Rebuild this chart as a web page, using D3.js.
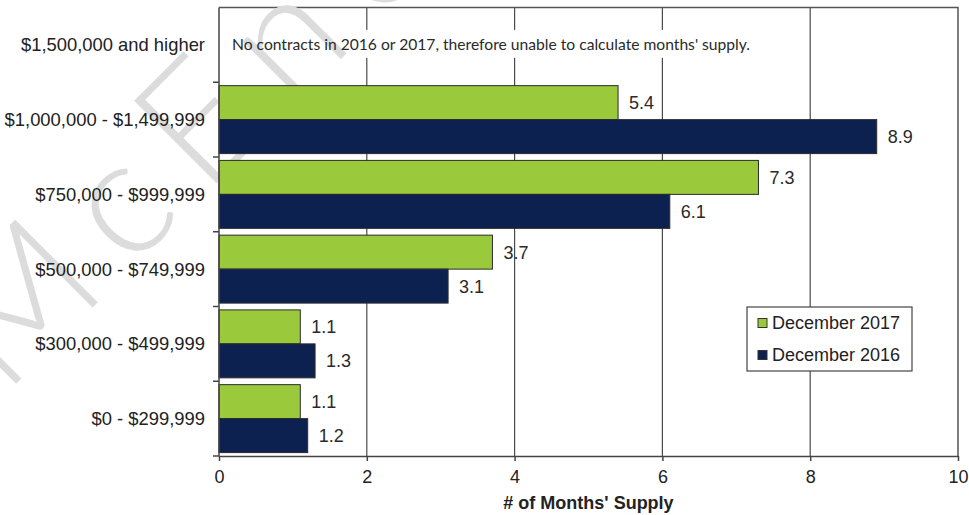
<!DOCTYPE html>
<html>
<head>
<meta charset="utf-8">
<script src="https://cdn.jsdelivr.net/npm/d3@7"></script>
<style>
  html, body { margin: 0; padding: 0; background: #fff; }
  svg { display: block; }
  text { font-family: "Liberation Sans", Arial, sans-serif; fill: #222; }
</style>
</head>
<body>
<svg id="chart" width="969" height="515"></svg>
<script>
// Price ranges, top to bottom
const categories = [
  "$1,500,000 and higher",
  "$1,000,000 - $1,499,999",
  "$750,000 - $999,999",
  "$500,000 - $749,999",
  "$300,000 - $499,999",
  "$0 - $299,999"
];
const seriesNames = ["December 2017", "December 2016"];
// Months' supply per price range (null = no contracts)
const dec2017 = [null, 5.4, 7.3, 3.7, 1.1, 1.1];
const dec2016 = [null, 8.9, 6.1, 3.1, 1.3, 1.2];
const xTicks = [0, 2, 4, 6, 8, 10];
const xTitle = "# of Months' Supply";
const noteText = "No contracts in 2016 or 2017,  therefore unable to calculate months' supply.";
const watermark = "McEnearney";

const colors = { "December 2017": "#9BC93C", "December 2016": "#0C2150" };

const plot = { left: 219, right: 958, top: 7.5, bottom: 456 };

const svg = d3.select("#chart");

const x = d3.scaleLinear().domain([0, 10]).range([plot.left, plot.right]);
const y = d3.scaleBand().domain(categories).range([plot.top, plot.bottom]).padding(0);
const ySub = d3.scaleBand().domain(seriesNames).range([0, y.bandwidth()]).paddingInner(0).paddingOuter(0.1);

const rows = categories.map((c, i) => ({
  category: c,
  values: [
    { series: seriesNames[0], value: dec2017[i] },
    { series: seriesNames[1], value: dec2016[i] }
  ]
}));

// Vertical gridlines
svg.append("g")
  .selectAll("line")
  .data(xTicks.filter(t => t > 0 && t < 10))
  .join("line")
  .attr("x1", d => x(d)).attr("x2", d => x(d))
  .attr("y1", plot.top).attr("y2", plot.bottom)
  .attr("stroke", "#4a4a4a").attr("stroke-width", 1.2);

// Frame (top and right)
svg.append("path")
  .attr("d", `M${plot.left},${plot.top}H${plot.right}V${plot.bottom}`)
  .attr("fill", "none").attr("stroke", "#555").attr("stroke-width", 1.5);

// White strip behind the note for the empty top range
const noteY = y(categories[0]) + y.bandwidth() / 2;
svg.append("rect")
  .attr("x", plot.left + 6).attr("y", noteY - 15)
  .attr("width", 535).attr("height", 28)
  .attr("fill", "#fff");

// Brand watermark across the left side, under the marks and labels
svg.append("text")
  .attr("transform", "translate(4,396) rotate(-45)")
  .style("font-family", "Lato, 'Open Sans', sans-serif")
  .style("font-weight", 300)
  .style("font-size", "165px")
  .style("letter-spacing", "30px")
  .style("fill", "#dcdcdc")
  .text(watermark);

svg.append("text")
  .attr("x", plot.left + 13).attr("y", noteY + 5)
  .attr("textLength", 518).attr("lengthAdjust", "spacingAndGlyphs")
  .style("font-family", "Lato, 'Open Sans', sans-serif")
  .style("font-size", "15px")
  .style("fill", "#2a2a2a")
  .text(noteText);

// Bars
const groups = svg.append("g")
  .selectAll("g")
  .data(rows)
  .join("g")
  .attr("transform", d => `translate(0,${y(d.category)})`);

groups.selectAll("rect")
  .data(d => d.values.filter(v => v.value != null))
  .join("rect")
  .attr("x", x(0))
  .attr("y", d => ySub(d.series))
  .attr("width", d => x(d.value) - x(0))
  .attr("height", ySub.bandwidth())
  .attr("fill", d => colors[d.series])
  .attr("stroke", "#2b2b2b").attr("stroke-width", 1);

groups.selectAll("text.val")
  .data(d => d.values.filter(v => v.value != null))
  .join("text")
  .attr("class", "val")
  .attr("x", d => x(d.value) + 11)
  .attr("y", d => ySub(d.series) + ySub.bandwidth() / 2)
  .attr("dy", "0.36em")
  .style("font-size", "18px")
  .style("fill", "#2a2a2a")
  .text(d => d.value.toFixed(1));

// Y axis: line, boundary ticks and range labels
svg.append("line")
  .attr("x1", plot.left).attr("x2", plot.left)
  .attr("y1", plot.top).attr("y2", plot.bottom)
  .attr("stroke", "#444").attr("stroke-width", 1.5);
svg.append("g")
  .selectAll("line")
  .data(categories.slice(1).map(c => y(c)).concat([plot.bottom]))
  .join("line")
  .attr("x1", plot.left - 6).attr("x2", plot.left)
  .attr("y1", d => d).attr("y2", d => d)
  .attr("stroke", "#444").attr("stroke-width", 1.5);
svg.append("g")
  .selectAll("text")
  .data(categories)
  .join("text")
  .attr("x", plot.left - 14)
  .attr("y", d => y(d) + y.bandwidth() / 2)
  .attr("dy", "0.36em")
  .attr("text-anchor", "end")
  .style("font-size", "18.4px")
  .text(d => d);

// X axis
const xAxis = svg.append("g")
  .attr("transform", `translate(0,${plot.bottom})`)
  .call(d3.axisBottom(x).tickValues(xTicks).tickSize(5).tickSizeOuter(0).tickPadding(9));
xAxis.select(".domain").attr("stroke", "#444").attr("stroke-width", 1.5);
xAxis.selectAll(".tick line").attr("stroke", "#444").attr("stroke-width", 1.5);
xAxis.selectAll(".tick text")
  .style("font-family", "'Liberation Sans', Arial, sans-serif")
  .style("font-size", "18px").style("fill", "#222");

svg.append("text")
  .attr("x", (plot.left + plot.right) / 2)
  .attr("y", 509)
  .attr("text-anchor", "middle")
  .style("font-size", "18px").style("font-weight", "bold")
  .text(xTitle);

// Legend
const legend = svg.append("g").attr("transform", "translate(747,307)");
legend.append("rect")
  .attr("width", 165).attr("height", 64)
  .attr("fill", "#fff").attr("stroke", "#444").attr("stroke-width", 1.2);
const items = legend.selectAll("g.item")
  .data(seriesNames)
  .join("g")
  .attr("class", "item")
  .attr("transform", (d, i) => `translate(0,${16 + i * 32})`);
items.append("rect")
  .attr("x", 11).attr("y", -4.5)
  .attr("width", 9).attr("height", 9)
  .attr("fill", d => colors[d]).attr("stroke", "#333").attr("stroke-width", 1);
items.append("text")
  .attr("x", 25).attr("dy", "0.36em")
  .style("font-size", "18px")
  .text(d => d);
</script>
</body>
</html>
